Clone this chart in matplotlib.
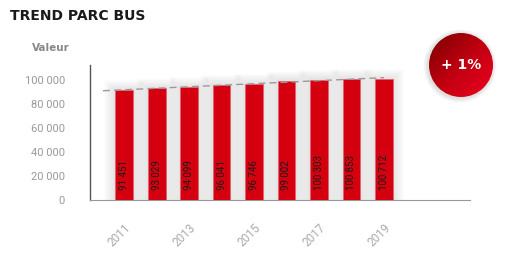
import numpy as np
import matplotlib
matplotlib.use("Agg")
import matplotlib.pyplot as plt
from matplotlib.patches import Circle
from matplotlib.colors import LinearSegmentedColormap

years = [2011, 2012, 2013, 2014, 2015, 2016, 2017, 2018, 2019]
values = [91451, 93029, 94099, 96041, 96746, 99002, 100303, 100853, 100712]
labels = ["91 451", "93 029", "94 099", "96 041", "96 746", "99 002", "100 303", "100 853", "100 712"]
yticks = [0, 20000, 40000, 60000, 80000, 100000]
yticklabels = ["0", "20 000", "40 000", "60 000", "80 000", "100 000"]
badge = "+ 1%"

W, H = 512, 256
fig = plt.figure(figsize=(W/100, H/100), dpi=100)
fig.patch.set_facecolor("white")

# axes: x 90..470 px, y 65..200 px
ax = fig.add_axes([90/W, 1-200/H, 380/W, 135/H])
x = np.arange(len(years))
ax.set_xlim(-1.05, 10.65)
ax.set_ylim(0, 112500)

# soft shadow
for k in range(14, 0, -1):
    ax.bar(x, np.array(values) + k*600, width=0.55 + k*0.05, color="#000000",
           alpha=0.009, linewidth=0, zorder=1)
ax.bar(x, values, width=0.55, color="#d40010", edgecolor="#e86070", linewidth=0.5, zorder=3)

for xi, lab in zip(x, labels):
    ax.text(xi, 8000, lab, rotation=90, ha="center", va="bottom", fontsize=7,
            color="#1a1a1a", zorder=4, family="Roboto")

# trend line
coef = np.polyfit(x, values, 1)
xt = np.array([-0.65, 8.0])
ax.plot(xt, np.polyval(coef, xt), ls=(0, (5, 3)), color="#999999", lw=1.0, zorder=5)

ax.set_xticks(x[::2])
ax.set_xticklabels([str(y) for y in years[::2]], rotation=45, ha="right",
                   rotation_mode="anchor", fontsize=8.5, color="#aaaaaa", family="Roboto")
ax.set_yticks(yticks)
ax.set_yticklabels(yticklabels, fontsize=8, color="#999999", family="Roboto")
ax.tick_params(axis="both", length=0)
ax.tick_params(axis="y", pad=18)
ax.tick_params(axis="x", pad=15)
for s in ["top", "right"]:
    ax.spines[s].set_visible(False)
ax.spines["left"].set_color("#555555")
ax.spines["left"].set_linewidth(1.0)
ax.spines["bottom"].set_color("#999999")
ax.spines["bottom"].set_linewidth(0.8)

fig.text(10/W, 1-16/H, "TREND PARC BUS", fontsize=10, fontweight="bold",
         color="#1a1a1a", va="center", ha="left")
fig.text(32/W, 1-48/H, "Valeur", fontsize=7.5, fontweight="bold",
         color="#888888", va="center", ha="left")

# badge circle with gradient
cx, cy, r = 461, 65, 32
bax = fig.add_axes([(cx-r-6)/W, 1-(cy+r+6)/H, (2*r+12)/W, (2*r+12)/H])
bax.set_xlim(-r-6, r+6)
bax.set_ylim(-r-6, r+6)
bax.set_aspect("equal")
bax.axis("off")
gx, gy = np.meshgrid(np.linspace(-1, 1, 200), np.linspace(1, -1, 200))
grad = (gx - gy) / 2
cmap = LinearSegmentedColormap.from_list("rg", ["#7a0000", "#c00010", "#ee0020"])
for k in range(8, 0, -1):
    bax.add_patch(Circle((-1, -1), r + k*0.6, color="black", alpha=0.015, lw=0))
im = bax.imshow(grad, cmap=cmap, extent=[-r, r, -r, r], origin="upper", zorder=2)
clip = Circle((0, 0), r, transform=bax.transData)
im.set_clip_path(clip)
bax.text(0, 0, badge, color="white", fontsize=10, fontweight="bold",
         ha="center", va="center", zorder=3)

fig.savefig("out.png", dpi=100, facecolor="white")
